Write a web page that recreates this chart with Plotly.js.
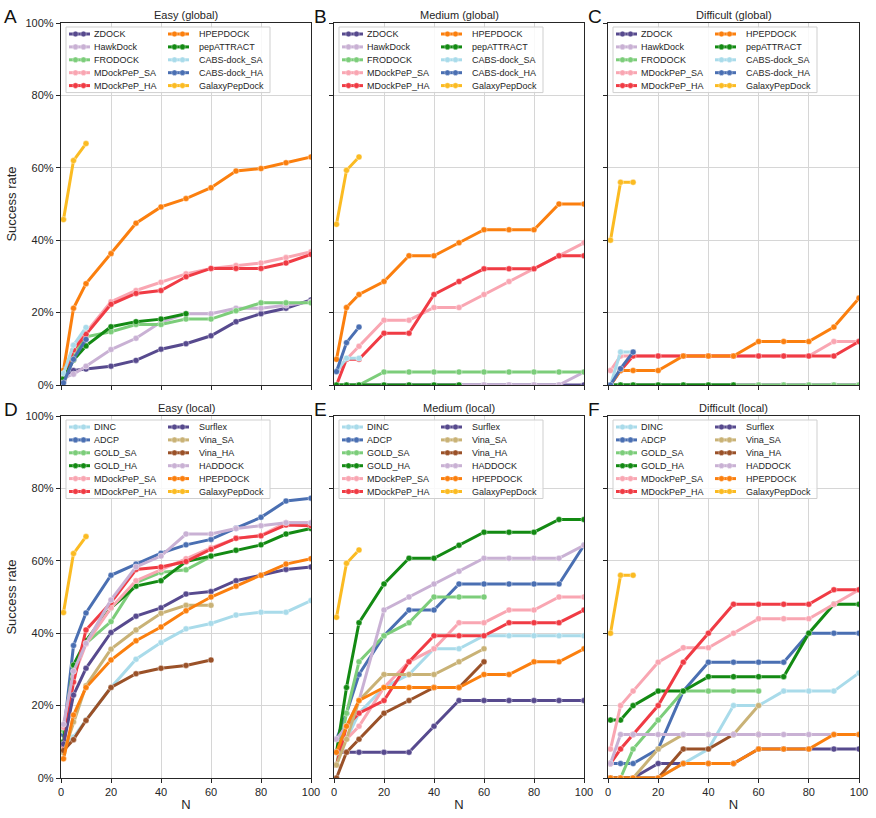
<!DOCTYPE html>
<html><head><meta charset="utf-8">
<script src="https://cdn.plot.ly/plotly-3.0.1.min.js"></script>
<style>html,body{margin:0;padding:0;background:#fff}#chart{width:876px;height:818px}</style>
</head><body><div id="chart"></div>
<script>
// ---------------- data ----------------
const N = [1, 5, 10, 20, 30, 40, 50, 60, 70, 80, 90, 100];
const xTicks = [0, 20, 40, 60, 80, 100];
const yTicks = [0, 20, 40, 60, 80, 100];
const yTickText = ['0%', '20%', '40%', '60%', '80%', '100%'];
const panelTitles = ['Easy (global)', 'Medium (global)', 'Difficult (global)', 'Easy (local)', 'Medium (local)', 'Difficult (local)'];
const panelLetters = ['A', 'B', 'C', 'D', 'E', 'F'];
const xTitle = 'N';
const yTitle = 'Success rate';

const globalMethods = ['ZDOCK', 'HawkDock', 'FRODOCK', 'MDockPeP_SA', 'MDockPeP_HA', 'HPEPDOCK', 'pepATTRACT', 'CABS-dock_SA', 'CABS-dock_HA', 'GalaxyPepDock'];
const localMethods = ['DINC', 'ADCP', 'GOLD_SA', 'GOLD_HA', 'MDockPeP_SA', 'MDockPeP_HA', 'Surflex', 'Vina_SA', 'Vina_HA', 'HADDOCK', 'HPEPDOCK', 'GalaxyPepDock'];

// success rate (%) per method, in the order of globalMethods / localMethods
const easyGlobal = [
  [1.4, 4.0, 4.4, 5.2, 6.8, 9.9, 11.4, 13.6, 17.5, 19.7, 21.2, 23.5],
  [2.0, 3.0, 5.2, 9.8, 12.9, 17.4, 19.7, 19.7, 21.2, 21.2, 22.0, 23.0],
  [2.5, 8.0, 13.3, 14.7, 16.7, 16.7, 18.2, 18.2, 20.5, 22.7, 22.7, 22.7],
  [2.5, 11.0, 14.5, 23.0, 26.1, 28.4, 30.7, 32.2, 33.0, 33.7, 35.2, 36.8],
  [1.5, 9.7, 14.0, 22.3, 25.3, 26.1, 29.9, 32.2, 32.2, 32.2, 33.7, 36.1],
  [4.1, 21.2, 28.0, 36.3, 44.7, 49.2, 51.5, 54.5, 59.1, 59.8, 61.4, 63.0],
  [1.8, 6.9, 10.8, 16.1, 17.5, 18.2, 19.7],
  [3.2, 11.0, 15.9],
  [0.6, 7.1, 12.6],
  [45.7, 62.0, 66.7]
];
const mediumGlobal = [
  [0, 0, 0, 0, 0, 0, 0, 0, 0, 0, 0, 0],
  [0, 0, 0, 0, 0, 0, 0, 0, 0, 0, 0, 3.6],
  [0, 0, 0, 3.6, 3.6, 3.6, 3.6, 3.6, 3.6, 3.6, 3.6, 3.6],
  [3.6, 7.1, 10.7, 17.9, 17.9, 21.4, 21.4, 25.0, 28.6, 32.1, 35.7, 39.3],
  [0, 7.1, 7.1, 14.3, 14.3, 25.0, 28.6, 32.1, 32.1, 32.1, 35.7, 35.7],
  [7.1, 21.4, 25.0, 28.6, 35.7, 35.7, 39.3, 42.9, 42.9, 42.9, 50.0, 50.0],
  [0, 0, 0, 0, 0, 0, 0],
  [3.7, 7.4, 7.4],
  [3.7, 11.7, 16.0],
  [44.4, 59.3, 63.0]
];
const difficultGlobal = [
  [0, 0, 0, 0, 0, 0, 0, 0, 0, 0, 0, 0],
  [0, 0, 0, 0, 0, 0, 0, 0, 0, 0, 0, 0],
  [0, 0, 0, 0, 0, 0, 0, 0, 0, 0, 0, 0],
  [4, 8, 8, 8, 8, 8, 8, 8, 8, 8, 12, 12],
  [0, 4, 8, 8, 8, 8, 8, 8, 8, 8, 8, 12],
  [0, 4, 4, 4, 8, 8, 8, 12, 12, 12, 16, 24],
  [0, 0, 0, 0, 0, 0, 0],
  [0, 9.1, 9.1],
  [0, 4.5, 9.1],
  [40, 56, 56]
];
const easyLocal = [
  [9.4, 11.3, 16.0, 25.0, 32.8, 37.4, 41.2, 42.7, 45.0, 45.8, 45.8, 49.0],
  [12.0, 36.6, 45.6, 56.0, 59.1, 62.1, 64.4, 65.9, 69.0, 72.0, 76.5, 77.3],
  [13.1, 31.0, 37.2, 43.2, 54.0, 56.8, 57.5, 61.2],
  [10.0, 31.2, 38.0, 47.0, 53.0, 54.5, 59.8, 61.3, 62.9, 64.4, 67.4, 68.9],
  [14.0, 28.0, 37.0, 47.0, 54.5, 57.6, 60.6, 63.6, 66.2, 67.0, 70.5, 70.5],
  [9.0, 26.5, 40.9, 48.5, 57.6, 58.3, 59.8, 63.2, 66.2, 66.9, 69.9, 69.7],
  [9.4, 22.9, 30.3, 40.2, 44.7, 47.0, 50.8, 51.5, 54.5, 56.0, 57.6, 58.3],
  [7.0, 15.5, 25.5, 35.6, 40.9, 45.5, 47.7, 47.7],
  [7.6, 10.6, 15.9, 25.0, 28.8, 30.3, 31.1, 32.6],
  [14.8, 29.5, 37.2, 49.2, 58.3, 61.3, 67.4, 67.4, 68.9, 69.7, 70.5, 70.5],
  [5.3, 17.4, 25.0, 32.6, 37.9, 41.7, 46.2, 50.0, 53.0, 56.0, 59.1, 60.6],
  [45.7, 62.0, 66.7]
];
const mediumLocal = [
  [7.1, 10.7, 17.9, 25.0, 28.6, 35.7, 35.7, 39.3, 39.3, 39.3, 39.3, 39.3],
  [10.7, 17.9, 28.6, 39.3, 46.4, 46.4, 53.6, 53.6, 53.6, 53.6, 53.6, 64.3],
  [3.6, 17.9, 32.1, 39.3, 42.9, 50.0, 50.0, 50.0],
  [7.1, 25.0, 42.9, 53.6, 60.7, 60.7, 64.3, 67.9, 67.9, 67.9, 71.4, 71.4],
  [7.1, 10.7, 14.3, 25.0, 32.1, 35.7, 42.9, 42.9, 46.4, 46.4, 50.0, 50.0],
  [3.6, 14.3, 17.9, 21.4, 32.1, 39.3, 39.3, 39.3, 42.9, 42.9, 42.9, 46.4],
  [7.1, 7.1, 7.1, 7.1, 7.1, 14.3, 21.4, 21.4, 21.4, 21.4, 21.4, 21.4],
  [3.6, 10.7, 21.4, 28.6, 28.6, 28.6, 32.1, 35.7],
  [0, 7.1, 10.7, 17.9, 21.4, 25.0, 25.0, 32.1],
  [10.7, 14.3, 21.4, 46.4, 50.0, 53.6, 57.1, 60.7, 60.7, 60.7, 60.7, 64.3],
  [7.1, 14.3, 21.4, 25.0, 25.0, 25.0, 25.0, 28.6, 28.6, 32.1, 32.1, 35.7],
  [44.4, 59.3, 63.0]
];
const difficultLocal = [
  [0, 0, 0, 0, 4, 8, 20, 20, 24, 24, 24, 29],
  [4, 4, 4, 8, 24, 32, 32, 32, 32, 40, 40, 40],
  [0, 0, 8, 16, 24, 24, 24, 24],
  [16, 16, 20, 24, 24, 28, 28, 28, 28, 40, 48, 48],
  [8, 20, 24, 32, 36, 36, 40, 44, 44, 44, 48, 52],
  [4, 8, 12, 20, 32, 40, 48, 48, 48, 48, 52, 52],
  [0, 0, 0, 4, 4, 4, 4, 8, 8, 8, 8, 8],
  [0, 0, 0, 8, 12, 12, 12, 20],
  [0, 0, 0, 0, 8, 8, 12, 12],
  [4, 12, 12, 12, 12, 12, 12, 12, 12, 12, 12, 12],
  [0, 0, 0, 0, 4, 4, 4, 8, 8, 8, 12, 12],
  [40, 56, 56]
];

// ---------------- styles ----------------
const colors = {
  'ZDOCK': '#574a8e', 'Surflex': '#574a8e',
  'HawkDock': '#c9b1d4', 'HADDOCK': '#c9b1d4',
  'FRODOCK': '#7ccd7a', 'GOLD_SA': '#7ccd7a',
  'pepATTRACT': '#138a13', 'GOLD_HA': '#138a13',
  'MDockPeP_SA': '#f9a6b2', 'MDockPeP_HA': '#f03b44',
  'HPEPDOCK': '#fb7f0e', 'GalaxyPepDock': '#fbbb22',
  'CABS-dock_SA': '#a9dbea', 'DINC': '#a9dbea',
  'CABS-dock_HA': '#4a6fb2', 'ADCP': '#4a6fb2',
  'Vina_SA': '#c9b276', 'Vina_HA': '#9a5128'
};

const panels = [
  {names: globalMethods, vals: easyGlobal},
  {names: globalMethods, vals: mediumGlobal},
  {names: globalMethods, vals: difficultGlobal},
  {names: localMethods, vals: easyLocal},
  {names: localMethods, vals: mediumLocal},
  {names: localMethods, vals: difficultLocal}
];

const W = 876, H = 818, ML = 61, MR = 17, MT = 23, MB = 40;
const PW = W - ML - MR, PH = H - MT - MB;
const xDom = [[0, 250 / PW], [273 / PW, 523 / PW], [547 / PW, 1]];
const yDom = [[393 / PH, 1], [0, 362 / PH]];
const font = 'Liberation Sans, Arial, sans-serif';
const ink = '#262626';

const traces = [];
const shapes = [];
const annotations = [];
const layout = {
  width: W, height: H,
  margin: {l: ML, r: MR, t: MT, b: MB},
  paper_bgcolor: '#fff', plot_bgcolor: '#fff',
  showlegend: false,
  font: {family: font, color: ink, size: 11}
};

panels.forEach((p, i) => {
  const col = i % 3, row = Math.floor(i / 3);
  const sfx = i ? String(i + 1) : '';
  layout['xaxis' + sfx] = {
    domain: xDom[col], anchor: 'y' + sfx, range: [0, 100], tickvals: xTicks,
    showticklabels: row === 1, ticks: 'outside', ticklen: 4, tickwidth: 1, tickcolor: ink,
    showline: true, mirror: true, linecolor: ink, linewidth: 1.2,
    showgrid: true, gridcolor: '#d6d6d6', gridwidth: 1, zeroline: false,
    tickfont: {size: 11, color: ink, family: font}, fixedrange: true,
    title: row === 1 ? {text: xTitle, font: {size: 13, color: ink, family: font}, standoff: 2} : {text: ''}
  };
  layout['yaxis' + sfx] = {
    domain: yDom[row], anchor: 'x' + sfx, range: [0, 100], tickvals: yTicks, ticktext: yTickText,
    showticklabels: col === 0, ticks: 'outside', ticklen: 4, tickwidth: 1, tickcolor: ink,
    showline: true, mirror: true, linecolor: ink, linewidth: 1.2,
    showgrid: true, gridcolor: '#d6d6d6', gridwidth: 1, zeroline: false,
    tickfont: {size: 11, color: ink, family: font}, fixedrange: true,
    title: col === 0 ? {text: yTitle, font: {size: 13, color: ink, family: font}, standoff: 6} : {text: ''}
  };

  p.names.forEach((nm, k) => {
    const ys = p.vals[k];
    traces.push({
      type: 'scatter', mode: 'lines+markers', name: nm,
      x: N.slice(0, ys.length), y: ys,
      xaxis: 'x' + sfx, yaxis: 'y' + sfx,
      line: {color: colors[nm], width: 3},
      marker: {color: colors[nm], size: 6, line: {color: 'rgba(255,255,255,0.7)', width: 0.6}},
      showlegend: false,
      hovertemplate: nm + ': %{y}%<extra></extra>'
    });
  });

  const xr = 'x' + sfx + ' domain', yr = 'y' + sfx + ' domain';
  // panel title
  annotations.push({xref: xr, yref: yr, x: 0.5, y: 1, yanchor: 'middle', yshift: 8.5,
    text: panelTitles[i], showarrow: false, font: {size: 11, color: ink, family: font}});

  // legend (two columns, column-major like the reference)
  const n = p.names.length, rows = Math.ceil(n / 2);
  const rowH = 12.9, first = 11;
  shapes.push({type: 'rect', layer: 'above', xref: xr, yref: yr,
    xsizemode: 'pixel', ysizemode: 'pixel', xanchor: 0, yanchor: 1,
    x0: 5, x1: 209, y0: -4, y1: -(first + (rows - 1) * rowH + 7),
    fillcolor: 'rgba(255,255,255,0.85)', line: {color: '#cfcfcf', width: 1}});
  p.names.forEach((nm, k) => {
    const c = Math.floor(k / rows), r = k % rows;
    const sx = c ? 107 : 8, tx = c ? 138 : 33;
    const cy = -(first + r * rowH);
    shapes.push({type: 'line', layer: 'above', xref: xr, yref: yr,
      xsizemode: 'pixel', ysizemode: 'pixel', xanchor: 0, yanchor: 1,
      x0: sx, x1: sx + 21, y0: cy, y1: cy, line: {color: colors[nm], width: 3}});
    [sx + 6.5, sx + 14.5].forEach(cx => shapes.push({type: 'circle', layer: 'above', xref: xr, yref: yr,
      xsizemode: 'pixel', ysizemode: 'pixel', xanchor: 0, yanchor: 1,
      x0: cx - 2.8, x1: cx + 2.8, y0: cy - 2.8, y1: cy + 2.8,
      fillcolor: colors[nm], line: {color: 'rgba(255,255,255,0.7)', width: 0.5}}));
    annotations.push({xref: xr, yref: yr, x: 0, y: 1, xanchor: 'left', yanchor: 'middle',
      xshift: tx - 2, yshift: cy, text: nm, showarrow: false,
      font: {size: 9, color: ink, family: font}});
  });
});

// panel letters
const letterPos = [[2, 17], [312, 17], [586, 17], [2, 409], [312, 409], [586, 409]];
panelLetters.forEach((L, i) => {
  annotations.push({xref: 'paper', yref: 'paper',
    x: (letterPos[i][0] - ML) / PW, y: (H - MB - letterPos[i][1]) / PH,
    xanchor: 'left', yanchor: 'middle', text: L, showarrow: false,
    font: {size: 19, color: '#111', family: font}});
});

layout.shapes = shapes;
layout.annotations = annotations;

Plotly.newPlot('chart', traces, layout, {displayModeBar: false, staticPlot: true});
</script>
</body></html>
